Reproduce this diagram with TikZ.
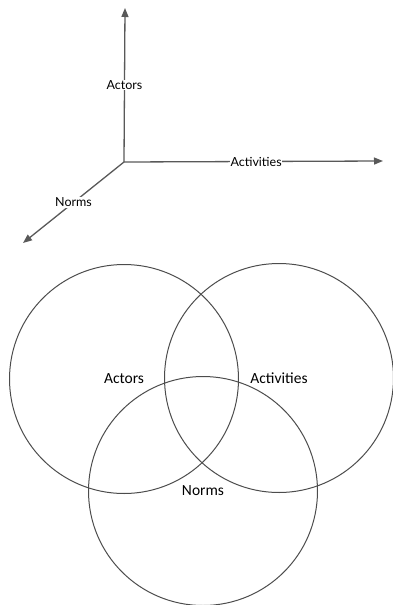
\documentclass[tikz,border=0pt]{standalone}
\usepackage{fontspec}
\setmainfont{Carlito}
\newfontfamily\axisfont{Lato}
\usetikzlibrary{arrows.meta,positioning}

\begin{document}
\begin{tikzpicture}[
    x=1pt, y=-1pt,
    axis/.style={draw=black!65, line width=1.3pt, -{Triangle[length=9pt,width=7pt]}},
    axlabel/.style={fill=white, inner sep=0.5pt, font=\axisfont\fontsize{12.5}{14}\selectfont},
    ring/.style={draw=black!70, line width=1pt, circle, minimum size=229pt, inner sep=0pt},
    setlabel/.style={font=\fontsize{15.5}{18}\selectfont}
]
    \useasboundingbox (0,0) rectangle (393,605);

    % Axes
    \coordinate (origin) at (124,162);
    \coordinate (actorsTip) at (125,8);
    \coordinate (activitiesTip) at (383,161);
    \coordinate (normsTip) at (23,243);

    \draw[axis] (origin) -- node[axlabel] (actorsAxis) {Actors} (actorsTip);
    \draw[axis] (origin) -- node[axlabel, pos=0.51] (activitiesAxis) {Activities} (activitiesTip);
    \draw[axis] (origin) -- node[axlabel, pos=0.5] (normsAxis) {Norms} (normsTip);

    % Venn circles
    \node[ring] (actorsSet) at (124,379) {};
    \node[ring] (activitiesSet) at (279,378) {};
    \node[ring] (normsSet) at (203,491) {};

    \node[setlabel] (actorsText) at (actorsSet.center) {Actors};
    \node[setlabel] (activitiesText) at (activitiesSet.center) {Activities};
    \node[setlabel] (normsText) at (normsSet.center) {Norms};

\end{tikzpicture}
\end{document}
